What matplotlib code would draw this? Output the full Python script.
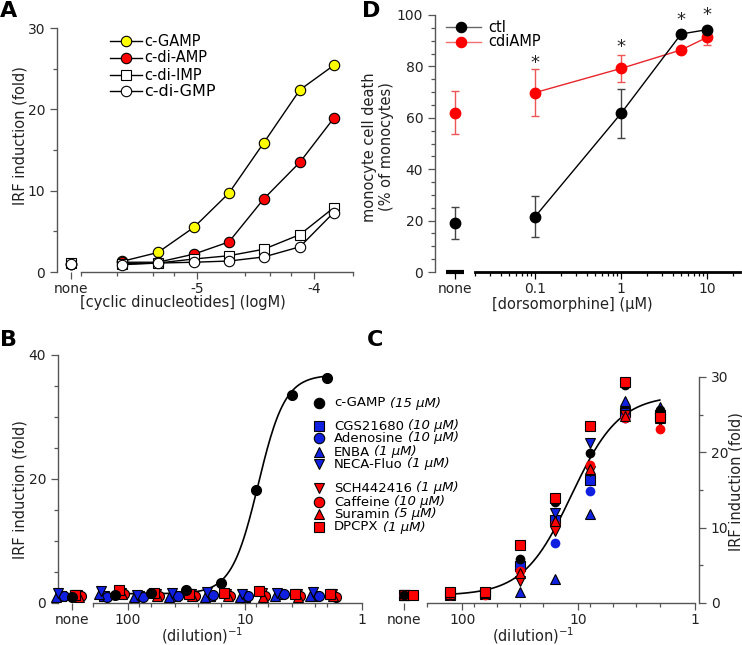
import numpy as np
import matplotlib
matplotlib.use('Agg')
import matplotlib.pyplot as plt
from matplotlib.lines import Line2D

W, H = 742, 645
AX_COLOR = '#555555'
TXT_COLOR = '#222222'
BLUE = '#1020e0'
RED = '#ff0000'

# ---------------- panel A : cyclic dinucleotides
a_names = ['c-GAMP', 'c-di-AMP', 'c-di-IMP', 'c-di-GMP']
a_logconc = [-5.65, -5.34, -5.03, -4.73, -4.43, -4.12, -3.83]
a_none = [1.0, 1.0, 1.1, 1.0]
a_cgamp = [1.3, 2.4, 5.5, 9.7, 15.9, 22.4, 25.4]
a_cdiamp = [1.2, 1.2, 2.2, 3.7, 9.0, 13.5, 18.9]
a_cdiimp = [1.0, 1.1, 1.6, 2.0, 2.8, 4.6, 7.9]
a_cdigmp = [0.9, 1.1, 1.2, 1.35, 1.85, 3.1, 7.3]

# ---------------- panels B and C : adenosine receptor ligands vs dilution
dilutions = [128, 64, 32, 16, 8, 4, 2]
bc_names = ['c-GAMP', 'CGS21680', 'Adenosine', 'ENBA', 'NECA-Fluo',
            'SCH442416', 'Caffeine', 'Suramin', 'DPCPX']
bc_conc = ['(15 \u00b5M)', '(10 \u00b5M)', '(10 \u00b5M)', '(1 \u00b5M)', '(1 \u00b5M)',
           '(1 \u00b5M)', '(10 \u00b5M)', '(5 \u00b5M)', '(1 \u00b5M)']
# first value = "none", then one per dilution
b_values = {
    'c-GAMP':    [1.0, 1.35, 1.6, 2.15, 3.3, 18.2, 33.5, 36.3],
    'CGS21680':  [1.2, 1.1, 1.2, 1.1, 1.1, 1.0, 1.4, 1.2],
    'Adenosine': [1.1, 1.0, 1.0, 1.2, 1.3, 1.1, 1.5, 1.1],
    'ENBA':      [0.9, 1.5, 1.0, 0.9, 1.0, 1.0, 1.2, 1.1],
    'NECA-Fluo': [1.6, 1.9, 1.3, 1.6, 1.7, 1.4, 1.6, 1.8],
    'SCH442416': [1.3, 1.6, 1.5, 1.5, 1.4, 1.6, 1.4, 1.5],
    'Caffeine':  [1.1, 1.5, 1.2, 1.1, 1.2, 1.1, 1.1, 1.0],
    'Suramin':   [1.0, 1.4, 1.1, 1.2, 1.2, 1.0, 1.0, 1.1],
    'DPCPX':     [1.3, 2.1, 1.6, 1.4, 1.6, 2.0, 1.5, 1.4],
}
c_values = {
    'c-GAMP':    [1.0, 1.3, 1.4, 5.8, 13.4, 19.9, 28.9, 25.6],
    'CGS21680':  [1.0, 1.1, 1.2, 4.9, 11.0, 16.3, 25.3, 25.0],
    'Adenosine': [1.0, 1.0, 1.2, 4.6, 7.9, 14.9, 24.6, 24.8],
    'ENBA':      [1.0, 1.2, 1.3, 1.4, 3.2, 11.8, 26.8, 26.0],
    'NECA-Fluo': [1.0, 1.1, 1.3, 3.9, 12.0, 21.2, 25.2, 24.6],
    'SCH442416': [1.0, 1.2, 1.2, 2.9, 9.5, 17.5, 25.0, 24.2],
    'Caffeine':  [1.0, 1.1, 1.1, 4.2, 10.5, 18.3, 24.5, 23.1],
    'Suramin':   [1.0, 1.2, 1.3, 4.0, 10.9, 17.8, 24.8, 24.5],
    'DPCPX':     [1.0, 1.5, 1.5, 7.7, 14.0, 23.5, 29.3, 24.7],
}
# Hill fits (bottom, top, EC50 dilution, slope)
b_fit = (1.5, 36.8, 7.7, 3.8)
c_fit = (1.0, 27.6, 11.5, 2.1)

# ---------------- panel D : monocyte death vs dorsomorphine
d_conc = [0.1, 1, 5, 10]
d_ctl_none, d_ctl_none_sd = 19.2, 6.2
d_ctl = [21.5, 61.7, 92.6, 94.3]
d_ctl_sd = [8.0, 9.4, 1.0, 1.0]
d_cdi_none, d_cdi_none_sd = 62.0, 8.4
d_cdi = [69.8, 79.2, 86.4, 91.3]
d_cdi_sd = [9.2, 5.3, 1.2, 3.0]
d_star_y = [81.5, 87.5, 98.0, 100.0]

# marker style per compound (marker, colour, x shift factor in B)
bc_style = {
    'c-GAMP':    ('o', 'k', 1.0),
    'CGS21680':  ('s', BLUE, 1.25),
    'Adenosine': ('o', BLUE, 1.17),
    'ENBA':      ('^', BLUE, 1.38),
    'NECA-Fluo': ('v', BLUE, 1.32),
    'SCH442416': ('v', RED, 0.90),
    'Caffeine':  ('o', RED, 0.84),
    'Suramin':   ('^', RED, 0.88),
    'DPCPX':     ('s', RED, 0.94),
}

plt.rcParams['font.family'] = ['DejaVu Sans']
plt.rcParams['mathtext.fontset'] = 'dejavusans'

fig = plt.figure(figsize=(W / 100, H / 100), dpi=100)


def add_ax(left, top, right, bottom):
    return fig.add_axes([left / W, 1 - bottom / H, (right - left) / W, (bottom - top) / H])


def fx(x):
    return x / W


def fy(y):
    return 1 - y / H


def base_style(ax, yside='left'):
    for s in ['top', 'right', 'left', 'bottom']:
        ax.spines[s].set_visible(False)
    ax.spines[yside].set_visible(True)
    ax.spines['bottom'].set_visible(True)
    for s in ax.spines.values():
        s.set_color(AX_COLOR)
        s.set_linewidth(1.0)
    ax.tick_params(which='both', direction='out', color=AX_COLOR, labelcolor=TXT_COLOR,
                   labelsize=10, width=0.9)
    ax.tick_params(which='major', length=5)
    ax.tick_params(which='minor', length=3)
    ax.tick_params(axis='x', pad=2.5)
    if yside == 'right':
        ax.yaxis.tick_right()
    ax.patch.set_visible(False)


def hill(d, p):
    bottom, top, ec50, n = p
    d = np.asarray(d, dtype=float)
    return bottom + (top - bottom) / (1 + (d / ec50) ** n)


def legend_entry(x_line0, x_line1, x_mark, x_text, y, marker, fc, text, size,
                 lc='k', ms=7.5, mec='k'):
    if x_line0 is not None:
        fig.add_artist(Line2D([fx(x_line0), fx(x_line1)], [fy(y), fy(y)], color=lc, lw=1.0))
    fig.add_artist(Line2D([fx(x_mark)], [fy(y)], marker=marker, mfc=fc, mec=mec,
                          ms=ms, mew=0.8, ls='none'))
    return fig.text(fx(x_text), fy(y), text, fontsize=size, va='center', ha='left', color='k')


# =============== A
axA = add_ax(57, 28, 353, 272)
base_style(axA)
A_NONE = -6.086
axA.set_xlim(-6.207, -3.664)
axA.set_ylim(0, 30)
axA.spines['bottom'].set_bounds(-6.0, -3.664)
axA.spines['left'].set_bounds(0, 30)
axA.set_xticks([A_NONE, -5, -4])
axA.set_xticklabels(['none', '-5', '-4'])
axA.set_xticks([-6.0, -5.69, -5.38, -5.2, -4.59, -4.38, -4.2, -3.664], minor=True)
axA.set_yticks([0, 10, 20, 30])
axA.set_yticks([5, 15, 25], minor=True)
a_series = [a_cgamp, a_cdiamp, a_cdiimp, a_cdigmp]
a_marks = [('o', '#ffff00'), ('o', RED), ('s', 'white'), ('o', 'white')]
for vals, nonev, (m, c) in zip(a_series, a_none, a_marks):
    axA.plot(a_logconc, vals, color='k', lw=1.0, marker=m, mfc=c, mec='k', ms=7.5,
             mew=0.8, clip_on=False)
    axA.plot([A_NONE], [nonev], ls='none', marker=m, mfc=c, mec='k', ms=7.5, mew=0.8,
             clip_on=False)
fig.text(fx(20), fy(136), 'IRF induction (fold)', rotation=90, ha='center', va='center',
         fontsize=10.5, color=TXT_COLOR)
fig.text(fx(183), fy(303), '[cyclic dinucleotides] (logM)', ha='center', va='center',
         fontsize=10.5, color=TXT_COLOR)
a_leg_y = [41, 58, 75, 91]
a_leg_size = [10.5, 10.5, 10.5, 11.5]
for name, (m, c), y, s in zip(a_names, a_marks, a_leg_y, a_leg_size):
    legend_entry(110, 142, 126, 144, y, m, c, name, s)

# =============== B
axB = add_ax(58, 355, 362, 603)
base_style(axB)
axB.set_xscale('log')
B_NONE = 300
axB.set_xlim(396, 1)
axB.set_ylim(0, 40)
axB.spines['bottom'].set_bounds(200, 1)
axB.spines['left'].set_bounds(0, 40)
axB.set_xticks([B_NONE, 100, 10, 1])
axB.set_xticklabels(['none', '100', '10', '1'])
axB.set_xticks([200, 80, 64, 40, 25, 16, 8, 6.4, 4, 2.5, 2], minor=True)
axB.xaxis.set_minor_formatter(plt.NullFormatter())
axB.set_yticks([0, 20, 40])
axB.set_yticks([5, 10, 15, 25, 30, 35], minor=True)
curve_d = np.geomspace(128, 2, 200)
axB.plot(curve_d, hill(curve_d, b_fit), color='k', lw=1.2, zorder=2)
for name in bc_names[1:] + ['c-GAMP']:
    m, c, off = bc_style[name]
    vals = b_values[name]
    xs = [B_NONE * off] + [d * off for d in dilutions]
    axB.plot(xs, vals, ls='none', marker=m, mfc=c, mec='k', ms=7.2, mew=0.8,
             clip_on=False, zorder=3)
fig.text(fx(20), fy(490), 'IRF induction (fold)', rotation=90, ha='center', va='center',
         fontsize=10.5, color=TXT_COLOR)
fig.text(fx(202), fy(636), '(dilution)$^{-1}$', ha='center', va='center',
         fontsize=10.5, color=TXT_COLOR)

# legend for B/C : name in roman, concentration in italics
b_leg_y = [403, 426, 438, 452, 464, 488, 502, 514, 527]
for name, conc, y in zip(bc_names, bc_conc, b_leg_y):
    m, c, _ = bc_style[name]
    t = legend_entry(None, None, 319, 334, y, m, c, name, 9.5,
                     ms=7 if m != 'o' else 7.5)
    axB.annotate(conc, xy=(1, 0), xycoords=t, xytext=(3, 0), textcoords='offset points',
                 ha='left', va='bottom', fontsize=9.5, fontstyle='italic', color='k',
                 annotation_clip=False)

# =============== C
axC = add_ax(390, 377, 699, 603)
base_style(axC, yside='right')
axC.set_xscale('log')
C_NONE = 316
axC.set_xlim(417, 0.92)
axC.set_ylim(0, 30)
axC.spines['bottom'].set_bounds(200, 1)
axC.spines['right'].set_bounds(0, 30)
axC.set_xticks([C_NONE, 100, 10, 1])
axC.set_xticklabels(['none', '100', '10', '1'])
axC.set_xticks([200, 79, 50, 32, 20, 7.9, 5, 3.2, 2], minor=True)
axC.xaxis.set_minor_formatter(plt.NullFormatter())
axC.set_yticks([0, 10, 20, 30])
axC.set_yticks([5, 15, 25], minor=True)
axC.plot(curve_d, hill(curve_d, c_fit), color='k', lw=1.2, zorder=2)
c_order = ['CGS21680', 'Adenosine', 'ENBA', 'NECA-Fluo', 'SCH442416', 'Caffeine',
           'Suramin', 'c-GAMP', 'DPCPX']
for name in c_order:
    m, c, _ = bc_style[name]
    vals = c_values[name]
    none_x = C_NONE * (0.84 if name == 'DPCPX' else 1.0)
    xs = [none_x] + dilutions
    edge = 'none' if m == 'o' else 'k'
    axC.plot(xs, vals, ls='none', marker=m, mfc=c, mec=edge, ms=7, mew=0.8,
             clip_on=False, zorder=3)
fig.text(fx(533), fy(636), '(dilution)$^{-1}$', ha='center', va='center',
         fontsize=10.5, color=TXT_COLOR)
fig.text(fx(736), fy(482), 'IRF induction (fold)', rotation=90, ha='center', va='center',
         fontsize=10.5, color=TXT_COLOR)

# =============== D
axD = add_ax(435, 15, 740, 272)
base_style(axD)
axD.set_xscale('log')
D_NONE = 0.0117
axD.set_xlim(0.00687, 24.2)
axD.set_ylim(0, 100)
axD.spines['bottom'].set_bounds(0.02, 24.2)
axD.spines['bottom'].set_color('k')
axD.spines['bottom'].set_linewidth(2.0)
axD.spines['left'].set_bounds(0, 100)
axD.set_xticks([D_NONE, 0.1, 1, 10])
axD.set_xticklabels(['none', '0.1', '1', '10'])
d_minor = [k * 10.0 ** e for e in (-2, -1, 0, 1) for k in range(2, 10)
           if 0.02 <= k * 10.0 ** e <= 24]
axD.set_xticks(d_minor, minor=True)
axD.xaxis.set_minor_formatter(plt.NullFormatter())
axD.tick_params(axis='x', which='both', color='k')
axD.set_yticks([0, 20, 40, 60, 80, 100])
axD.set_yticks([v for v in range(5, 100, 5) if v % 20], minor=True)
axD.plot([D_NONE / 1.28, D_NONE * 1.28], [0, 0], color='k', lw=3, solid_capstyle='butt',
         clip_on=False, zorder=4)
axD.errorbar(d_conc, d_ctl, yerr=d_ctl_sd, color='k', ecolor='#444444', lw=1.0,
             elinewidth=1.0, capsize=3, marker='o', ms=7.5, mec='k', zorder=3,
             clip_on=False)
axD.errorbar([D_NONE], [d_ctl_none], yerr=[d_ctl_none_sd], ls='none', ecolor='#444444',
             elinewidth=1.0, capsize=3, marker='o', ms=7.5, mfc='k', mec='k', zorder=3)
axD.errorbar(d_conc, d_cdi, yerr=d_cdi_sd, color='#e8262a', ecolor='#ee5555', lw=1.0,
             elinewidth=1.0, capsize=3, marker='o', ms=7.5, mfc=RED, mec=RED, zorder=2,
             clip_on=False)
axD.errorbar([D_NONE], [d_cdi_none], yerr=[d_cdi_none_sd], ls='none', ecolor='#ee5555',
             elinewidth=1.0, capsize=3, marker='o', ms=7.5, mfc=RED, mec=RED, zorder=2)
for xc, ys in zip(d_conc, d_star_y):
    axD.text(xc, ys, '*', ha='center', va='center', fontsize=13, color='#222222',
             clip_on=False)
fig.text(fx(378), fy(147), 'monocyte cell death\n(% of monocytes)', rotation=90,
         ha='center', va='center', fontsize=10.5, color=TXT_COLOR, linespacing=1.15)
fig.text(fx(572), fy(304), '[dorsomorphine] (\u00b5M)', ha='center', va='center',
         fontsize=10.5, color=TXT_COLOR)
legend_entry(446, 481, 461, 488, 27, 'o', 'k', 'ctl', 10.5, lc='#666666')
legend_entry(446, 481, 461, 488, 42, 'o', RED, 'cdiAMP', 10.5, lc='#f07070', mec=RED)

# panel letters
for letter, x, y in [('A', 9, 11), ('D', 371, 11), ('B', 9, 340), ('C', 375, 340)]:
    fig.text(fx(x), fy(y), letter, fontsize=16, fontweight='bold', ha='center',
             va='center')

fig.savefig('out.png', dpi=100)
